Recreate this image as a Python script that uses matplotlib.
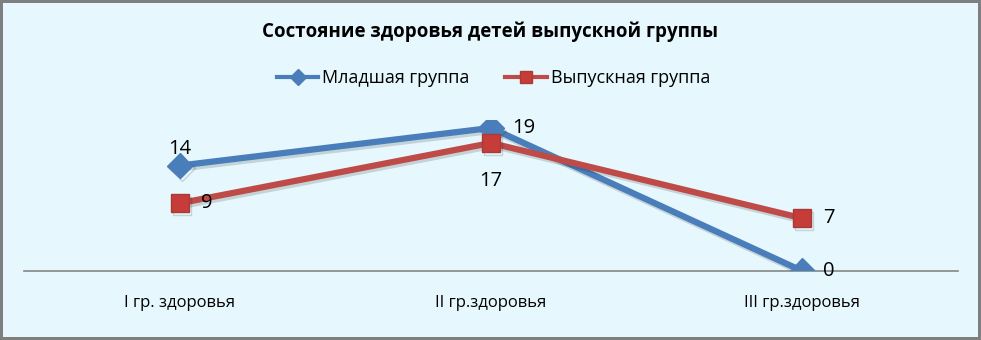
import matplotlib.pyplot as plt
import matplotlib.patheffects as pe
from matplotlib.lines import Line2D

plt.rcParams['font.family'] = ['Open Sans', 'DejaVu Sans']

categories = ["I гр. здоровья", "II гр.здоровья", "III гр.здоровья"]
junior = [14, 19, 0]
graduate = [9, 17, 7]
series_names = ["Младшая группа", "Выпускная группа"]
title = "Состояние здоровья детей выпускной группы"

bg = "#e6f8fe"
blue = "#4a7ebb"
red = "#be4b48"

fig = plt.figure(figsize=(9.81, 3.40), dpi=100)
fig.patch.set_facecolor(bg)
fig.patch.set_edgecolor("#7f7f7f")
fig.patch.set_linewidth(3)

ax = fig.add_axes([24 / 981, 69 / 340, 934 / 981, 150.6 / 340])
ax.set_facecolor("none")
x = range(len(categories))

shadow = [pe.SimpleLineShadow(offset=(1.5, -2), alpha=0.15), pe.Normal()]
ax.plot(x, junior, color=blue, lw=4.5, marker="D", ms=13,
        markeredgecolor=blue, solid_capstyle="round",
        path_effects=shadow, zorder=3)
ax.plot(x, graduate, color=red, lw=4.5, marker="s", ms=13,
        markeredgecolor="#a83a37", markerfacecolor="#c63c39",
        solid_capstyle="round", path_effects=shadow, zorder=4)

# value labels placed like the default data labels
lbl = dict(fontsize=14.5, color="black", zorder=5)
ax.annotate(str(junior[0]), (0, junior[0]), xytext=(0, 4.5),
            textcoords="offset points", ha="center", va="bottom", **lbl)
ax.annotate(str(junior[1]), (1, junior[1]), xytext=(15, 0),
            textcoords="offset points", ha="left", va="center", **lbl)
ax.annotate(str(junior[2]), (2, junior[2]), xytext=(15, 0),
            textcoords="offset points", ha="left", va="center", **lbl)
ax.annotate(str(graduate[0]), (0, graduate[0]), xytext=(15, 0),
            textcoords="offset points", ha="left", va="center", **lbl)
ax.annotate(str(graduate[1]), (1, graduate[1]), xytext=(0, -20),
            textcoords="offset points", ha="center", va="top", **lbl)
ax.annotate(str(graduate[2]), (2, graduate[2]), xytext=(15, 0),
            textcoords="offset points", ha="left", va="center", **lbl)

ax.set_xlim(-0.5, 2.5)
ax.set_ylim(0, 20)
for s in ["top", "right", "left"]:
    ax.spines[s].set_visible(False)
ax.spines["bottom"].set_color("#868686")
ax.spines["bottom"].set_linewidth(1.2)
ax.set_yticks([])
ax.set_xticks(list(x))
ax.set_xticklabels(categories, fontsize=12)
ax.tick_params(axis="x", length=0, pad=17)

fig.text(0.5, 1 - 32 / 340, title, ha="center", va="center",
         fontsize=13.5, fontweight="bold")

handles = [
    Line2D([], [], color=blue, lw=3, marker="D", ms=8, markeredgecolor=blue),
    Line2D([], [], color=red, lw=3, marker="s", ms=8,
           markeredgecolor="#a83a37", markerfacecolor="#c63c39"),
]
fig.legend(handles, series_names, loc="center",
           bbox_to_anchor=(0.503, 1 - 78 / 340), ncol=2, frameon=False,
           fontsize=13, handlelength=2.3, columnspacing=2.0,
           handletextpad=0.2)

fig.savefig("out.png", dpi=100, facecolor=fig.get_facecolor(),
            edgecolor=fig.patch.get_edgecolor())
